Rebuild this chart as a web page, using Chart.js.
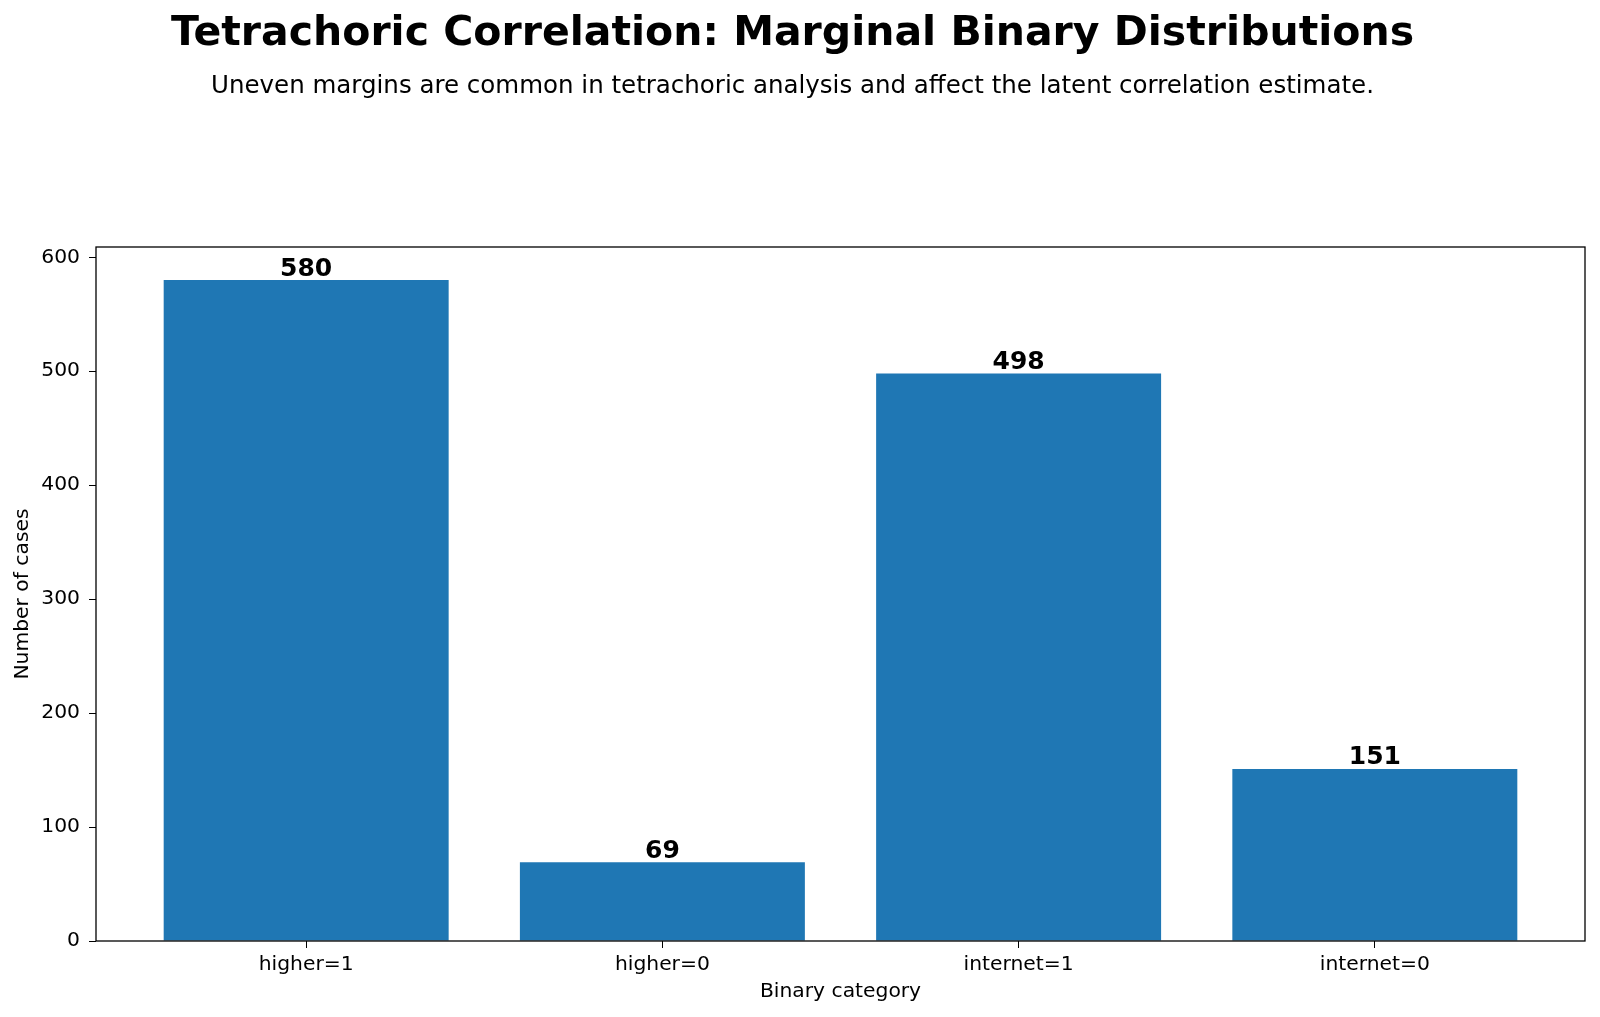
<!DOCTYPE html>
<html>
<head>
<meta charset="utf-8">
<script src="https://cdn.jsdelivr.net/npm/chart.js@4/dist/chart.umd.min.js"></script>
<style>
  body { margin: 0; background: #fff; }
  canvas { display: block; }
</style>
</head>
<body>
<canvas id="myChart" width="1600" height="1017"></canvas>
<script>
// datos del grafico
const categorias = ['higher=1', 'higher=0', 'internet=1', 'internet=0'];
const casos = [580, 69, 498, 151];
const ticksY = [0, 100, 200, 300, 400, 500, 600];
const limiteY = 609;

const fuente = 'DejaVu Sans';

// marco negro alrededor del area (como matplotlib) + etiquetas de valor
const marcoYValores = {
    id: 'marcoYValores',
    afterDatasetsDraw(chart) {
        const ctx = chart.ctx;
        const a = chart.chartArea;
        ctx.save();
        ctx.strokeStyle = '#000';
        ctx.lineWidth = 1.3;
        ctx.strokeRect(a.left, a.top, a.right - a.left, a.bottom - a.top);

        ctx.fillStyle = '#000';
        ctx.font = 'bold 25px "' + fuente + '"';
        ctx.textAlign = 'center';
        ctx.textBaseline = 'alphabetic';
        chart.getDatasetMeta(0).data.forEach((barra, i) => {
            ctx.fillText(String(casos[i]), barra.x, barra.y - 4.5);
        });
        ctx.restore();
    }
};

const ctx = document.getElementById('myChart').getContext('2d');
const myChart = new Chart(ctx, {
    type: 'bar',
    data: {
        datasets: [{
            label: 'Number of cases',
            data: casos.map((v, i) => ({ x: i, y: v })),
            backgroundColor: '#1f77b4',
            borderWidth: 0,
            barPercentage: 0.8,
            categoryPercentage: 1.0
        }]
    },
    options: {
        responsive: false,
        animation: false,
        devicePixelRatio: 1,
        layout: { padding: { top: 0, right: 15, bottom: 0, left: 0 } },
        plugins: {
            legend: { display: false },
            tooltip: { enabled: false },
            title: {
                display: true,
                text: 'Tetrachoric Correlation: Marginal Binary Distributions',
                color: '#000',
                font: { family: fuente, size: 41, weight: 'bold' },
                padding: { top: 10, bottom: 10 }
            },
            subtitle: {
                display: true,
                text: 'Uneven margins are common in tetrachoric analysis and affect the latent correlation estimate.',
                color: '#000',
                font: { family: fuente, size: 24.5 },
                padding: { top: 3, bottom: 145.4 }
            }
        },
        scales: {
            x: {
                type: 'linear',
                min: -0.59,
                max: 3.59,
                offset: false,
                afterBuildTicks: (scale) => {
                    scale.ticks = categorias.map((c, i) => ({ value: i }));
                },
                afterFit: (scale) => { scale.height = 76; },
                ticks: {
                    color: '#000',
                    font: { family: fuente, size: 20.3 },
                    padding: 5,
                    maxRotation: 0,
                    autoSkip: false,
                    callback: (v) => categorias[v]
                },
                grid: {
                    offset: false,
                    drawOnChartArea: false,
                    drawTicks: true,
                    tickLength: 7,
                    color: '#000',
                    lineWidth: 1
                },
                border: { display: false },
                title: {
                    display: true,
                    text: 'Binary category',
                    color: '#000',
                    font: { family: fuente, size: 20.3 },
                    padding: { top: 0, bottom: 13 }
                }
            },
            y: {
                min: 0,
                max: limiteY,
                afterBuildTicks: (scale) => {
                    scale.ticks = ticksY.map(v => ({ value: v }));
                },
                afterFit: (scale) => { scale.width = 96; },
                ticks: {
                    color: '#000',
                    font: { family: fuente, size: 20.3 },
                    padding: 9
                },
                grid: {
                    drawOnChartArea: false,
                    drawTicks: true,
                    tickLength: 7,
                    color: '#000',
                    lineWidth: 1
                },
                border: { display: false },
                title: {
                    display: true,
                    text: 'Number of cases',
                    color: '#000',
                    font: { family: fuente, size: 20.3 },
                    padding: { top: 11, bottom: 0 }
                }
            }
        }
    },
    plugins: [marcoYValores]
});
</script>
</body>
</html>
